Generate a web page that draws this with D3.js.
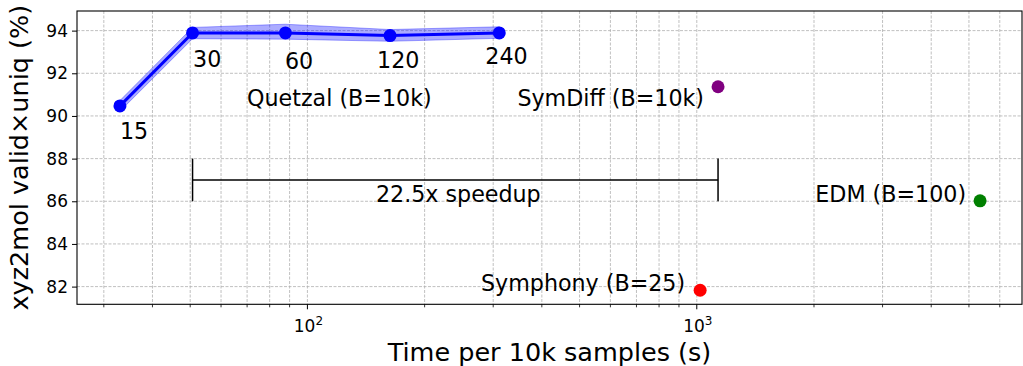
<!DOCTYPE html>
<html>
<head>
<meta charset="utf-8">
<script src="https://cdn.jsdelivr.net/npm/d3@7"></script>
<style>
  html, body { margin: 0; padding: 0; background: #fff; }
  svg { display: block; font-family: "DejaVu Sans", sans-serif; }
</style>
</head>
<body>
<svg id="chart" width="1023" height="366"></svg>
<script>
// ---- data ----
const quetzalSteps = ["15", "30", "60", "120", "240"];
const quetzalTime  = [33.0, 50.7, 87.8, 163, 311];
const quetzalScore = [90.47, 93.89, 93.89, 93.77, 93.89];
const quetzalLow   = [90.22, 93.62, 93.60, 93.50, 93.64];
const quetzalHigh  = [90.72, 94.15, 94.30, 94.05, 94.18];

const baselineNames = ["SymDiff (B=10k)", "EDM (B=100)", "Symphony (B=25)"];
const baselineTime  = [1134, 5340, 1020];
const baselineScore = [91.37, 86.02, 81.83];

const quetzalName = "Quetzal (B=10k)";
const speedupLabel = "22.5x speedup";
const yTicks = [82, 84, 86, 88, 90, 92, 94];
const xMajorTicks = [100, 1000];
const xMinorTicks = [30, 40, 50, 60, 70, 80, 90, 200, 300, 400, 500, 600, 700, 800, 900, 2000, 3000, 4000, 5000, 6000];
const xLabel = "Time per 10k samples (s)";
const yLabel = "xyz2mol valid\u00d7uniq (%)";

// ---- layout / style ----
const W = 1023, H = 366;
const M = { left: 77, right: 1, top: 11, bottom: 61.7 };
const baselineColors = ["#800080", "#008000", "#ff0000"];
const stepLabelOffset = [[0, 33], [0.5, 34], [-0.5, 36], [-13, 32.5], [-14, 31]];
const baselineLabelOffset = [[-14, 19.5], [-14, 1], [-15, 1]];

const svg = d3.select("#chart");
const x = d3.scaleLog().domain([25.6, 6843]).range([M.left, W - M.right]);
const y = d3.scaleLinear().domain([81.17, 94.92]).range([H - M.bottom, M.top]);
const plotB = H - M.bottom, plotT = M.top, plotL = M.left, plotR = W - M.right;

// grid
const grid = svg.append("g").attr("stroke", "#b0b0b0").attr("stroke-width", 0.8)
  .attr("stroke-dasharray", "3,1.5");
grid.selectAll("line.gy").data(yTicks).join("line")
  .attr("x1", plotL).attr("x2", plotR).attr("y1", d => y(d)).attr("y2", d => y(d));
grid.selectAll("line.gx").data(xMajorTicks.concat(xMinorTicks)).join("line")
  .attr("y1", plotT).attr("y2", plotB).attr("x1", d => x(d)).attr("x2", d => x(d));

// band
const idx = d3.range(quetzalTime.length);
svg.append("path")
  .attr("d", d3.area().x(i => x(quetzalTime[i])).y0(i => y(quetzalLow[i])).y1(i => y(quetzalHigh[i]))(idx))
  .attr("fill", "#0000ff").attr("fill-opacity", 0.33)
  .attr("stroke", "#0000ff").attr("stroke-opacity", 0.33).attr("stroke-width", 1);

// line
svg.append("path")
  .attr("d", d3.line().x(i => x(quetzalTime[i])).y(i => y(quetzalScore[i]))(idx))
  .attr("fill", "none").attr("stroke", "#0000ff").attr("stroke-width", 3);
svg.selectAll("circle.q").data(idx).join("circle")
  .attr("cx", i => x(quetzalTime[i])).attr("cy", i => y(quetzalScore[i])).attr("r", 6.5)
  .attr("fill", "#0000ff");

const fs = 22.2;
svg.selectAll("text.step").data(idx).join("text")
  .attr("x", i => x(quetzalTime[i]) + stepLabelOffset[i][0])
  .attr("y", i => y(quetzalScore[i]) + stepLabelOffset[i][1])
  .attr("font-size", fs).attr("fill", "#000")
  .text(i => quetzalSteps[i]);

svg.append("text").attr("x", x(70)).attr("y", y(90.47))
  .attr("font-size", fs).text(quetzalName);

// baselines
svg.selectAll("circle.b").data(baselineNames).join("circle")
  .attr("cx", (d, i) => x(baselineTime[i])).attr("cy", (d, i) => y(baselineScore[i]))
  .attr("r", 6.5).attr("fill", (d, i) => baselineColors[i]);
svg.selectAll("text.b").data(baselineNames).join("text")
  .attr("x", (d, i) => x(baselineTime[i]) + baselineLabelOffset[i][0])
  .attr("y", (d, i) => y(baselineScore[i]) + baselineLabelOffset[i][1])
  .attr("text-anchor", "end").attr("font-size", fs).text(d => d);

// speedup bracket
const sx0 = x(quetzalTime[1]), sx1 = x(baselineTime[0]);
const br = svg.append("g").attr("stroke", "#000").attr("stroke-width", 1.5);
br.append("line").attr("x1", sx0).attr("x2", sx1).attr("y1", y(87)).attr("y2", y(87));
br.append("line").attr("x1", sx0).attr("x2", sx0).attr("y1", y(88)).attr("y2", y(86));
br.append("line").attr("x1", sx1).attr("x2", sx1).attr("y1", y(88)).attr("y2", y(86));
svg.append("text").attr("x", x(Math.sqrt(quetzalTime[1] * baselineTime[0])) + 3).attr("y", y(85.97))
  .attr("text-anchor", "middle").attr("font-size", fs).text(speedupLabel);

// frame
svg.append("rect").attr("x", plotL).attr("y", plotT).attr("width", plotR - plotL).attr("height", plotB - plotT)
  .attr("fill", "none").attr("stroke", "#000").attr("stroke-width", 1.1);

// y axis
const yAxis = svg.append("g").attr("transform", `translate(${plotL},0)`)
  .call(d3.axisLeft(y).tickValues(yTicks).tickSize(5).tickPadding(4).tickFormat(d3.format("d")));
yAxis.select(".domain").remove();
yAxis.selectAll("text").attr("font-size", 17).attr("font-family", "DejaVu Sans").attr("fill", "#000");
yAxis.selectAll("line").attr("stroke", "#000").attr("stroke-width", 1);

// x axis
const xAxisG = svg.append("g").attr("transform", `translate(0,${plotB})`);
xAxisG.selectAll("line.minor").data(xMinorTicks).join("line")
  .attr("x1", d => x(d)).attr("x2", d => x(d)).attr("y1", 0).attr("y2", 3)
  .attr("stroke", "#000").attr("stroke-width", 0.8);
xAxisG.selectAll("line.major").data(xMajorTicks).join("line")
  .attr("x1", d => x(d)).attr("x2", d => x(d)).attr("y1", 0).attr("y2", 5)
  .attr("stroke", "#000").attr("stroke-width", 1);
const xl = xAxisG.selectAll("text.major").data(xMajorTicks).join("text")
  .attr("x", d => x(d) + 1).attr("y", 27.5).attr("text-anchor", "middle")
  .attr("font-size", 17).attr("fill", "#000");
xl.append("tspan").text("10");
xl.append("tspan").attr("font-size", 12).attr("dy", -7).text(d => String(Math.round(Math.log10(d))));

// axis labels
svg.append("text").attr("x", (plotL + plotR) / 2).attr("y", 361).attr("text-anchor", "middle")
  .attr("font-size", 25.5).text(xLabel);
svg.append("text").attr("transform", `translate(28,${(plotT + plotB) / 2}) rotate(-90)`)
  .attr("text-anchor", "middle").attr("font-size", 25.5).text(yLabel);
</script>
</body>
</html>
